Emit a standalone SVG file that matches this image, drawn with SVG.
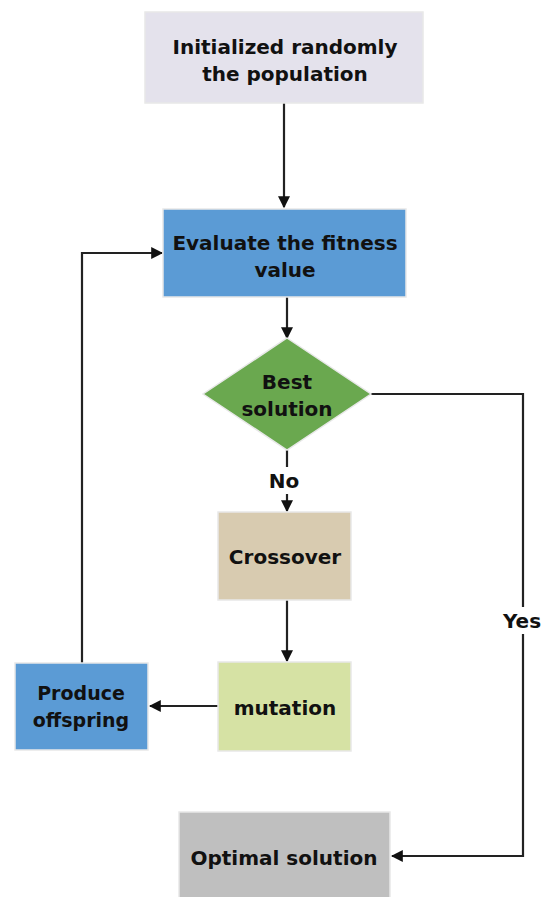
<svg xmlns="http://www.w3.org/2000/svg" width="544" height="897" viewBox="0 0 544 897">
<defs>
<marker id="ah" viewBox="0 0 10 10" refX="9" refY="5" markerWidth="12" markerHeight="12" markerUnits="userSpaceOnUse" orient="auto">
<path d="M0,0 L10,5 L0,10 z" fill="#111"/>
</marker>
<style>
.t{font-family:"DejaVu Sans","Liberation Sans",sans-serif;font-weight:bold;font-size:20px;fill:#111;text-anchor:middle}
.s{font-size:19px}
.box{stroke:#e8e8e8;stroke-width:1.5}
.c{fill:none;stroke:#222;stroke-width:2.2}
.lbl{fill:#fff}
</style>
</defs>
<rect width="544" height="897" fill="#fff"/>
<g id="connectors">
<path class="c" d="M284,103 V207" marker-end="url(#ah)"/>
<path class="c" d="M287,297 V338" marker-end="url(#ah)"/>
<path class="c" d="M287,450 V511" marker-end="url(#ah)"/>
<path class="c" d="M287,600 V661" marker-end="url(#ah)"/>
<path class="c" d="M218,706 H150" marker-end="url(#ah)"/>
<path class="c" d="M82,663 V253 H162" marker-end="url(#ah)"/>
<path class="c" d="M371,394 H523 V856 H392" marker-end="url(#ah)"/>
<rect class="lbl" x="265" y="467" width="38" height="27"/>
<text class="t" x="284" y="488">No</text>
<rect class="lbl" x="501" y="607" width="43" height="27"/>
<text class="t" x="522" y="628">Yes</text>
</g>
<g id="init">
<rect class="box" x="145" y="12" width="278" height="91" fill="#e4e2ec"/>
<text class="t" x="285" y="54">Initialized randomly</text>
<text class="t" x="285" y="81">the population</text>
</g>
<g id="evaluate">
<rect class="box" x="163" y="209" width="243" height="88" fill="#5b9bd5"/>
<text class="t" x="285" y="250">Evaluate the fitness</text>
<text class="t" x="285" y="277">value</text>
</g>
<g id="best">
<polygon class="box" points="287,338 371,394 287,450 203,394" fill="#6aa84f"/>
<text class="t" x="287" y="389">Best</text>
<text class="t" x="287" y="416">solution</text>
</g>
<g id="crossover">
<rect class="box" x="218" y="512" width="133" height="88" fill="#d8cbb0"/>
<text class="t" x="285" y="564">Crossover</text>
</g>
<g id="mutation">
<rect class="box" x="218" y="662" width="133" height="89" fill="#d6e2a4"/>
<text class="t" x="285" y="715">mutation</text>
</g>
<g id="produce">
<rect class="box" x="15" y="663" width="133" height="87" fill="#5b9bd5"/>
<text class="t s" x="81" y="700">Produce</text>
<text class="t s" x="81" y="727">offspring</text>
</g>
<g id="optimal">
<rect class="box" x="179" y="812" width="211" height="90" fill="#bfbfbf"/>
<text class="t" x="284" y="865">Optimal solution</text>
</g>
</svg>
